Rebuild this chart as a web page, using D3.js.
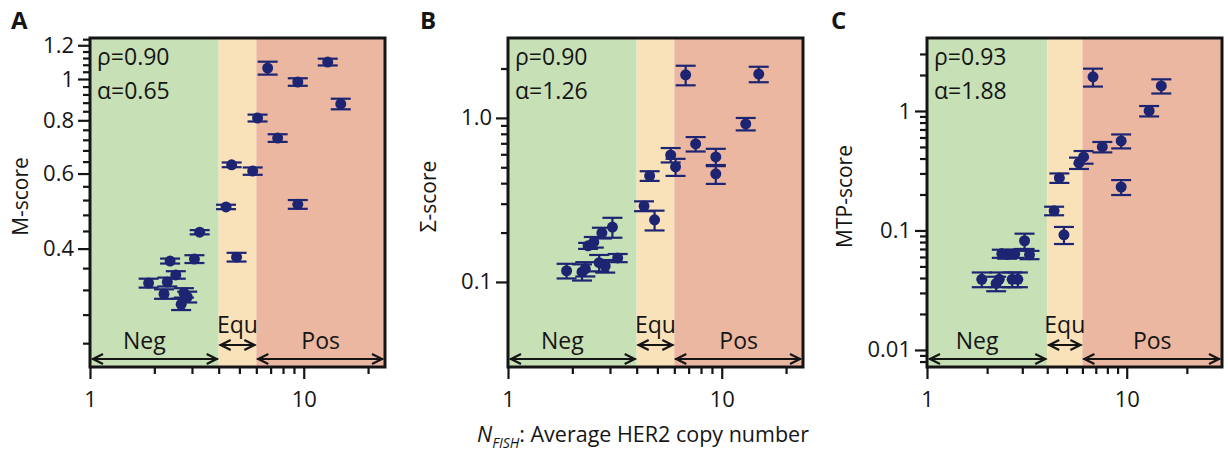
<!DOCTYPE html>
<html>
<head>
<meta charset="utf-8">
<script src="https://cdn.jsdelivr.net/npm/d3@7"></script>
<style>
  body { margin: 0; background: #fff; }
  text { font-family: "Open Sans", sans-serif; }
</style>
</head>
<body>
<div id="chart"></div>
<script>
// Average HER2 copy number of each sample (shared by the three panels)
const nFish = [1.88, 2.22, 2.3, 2.37, 2.52, 2.67, 2.75, 2.85, 3.08, 3.26, 4.33, 4.6, 4.85, 5.77, 6.08, 6.78, 7.55, 9.38, 9.38, 12.95, 14.9];

// Panel A: M-score
const mScore = [0.332, 0.313, 0.334, 0.374, 0.347, 0.296, 0.315, 0.308, 0.378, 0.437, 0.501, 0.629, 0.382, 0.608, 0.81, 1.061, 0.727, 0.984, 0.508, 1.096, 0.874];
const mErr   = [0.008, 0.008, 0.008, 0.005, 0.007, 0.009, 0.008, 0.009, 0.008, 0.005, 0.006, 0.008, 0.009, 0.012, 0.015, 0.037, 0.015, 0.02, 0.012, 0.02, 0.025];

// Panel B: Sigma-score
const sigmaScore = [0.117, 0.115, 0.12, 0.166, 0.175, 0.131, 0.199, 0.125, 0.216, 0.14, 0.29, 0.443, 0.239, 0.595, 0.503, 1.83, 0.694, 0.578, 0.456, 0.919, 1.85];
const sigmaErr   = [0.012, 0.013, 0.012, 0.007, 0.013, 0.015, 0.015, 0.011, 0.03, 0.008, 0.02, 0.03, 0.033, 0.06, 0.06, 0.25, 0.07, 0.07, 0.06, 0.08, 0.2];

// Panel C: MTP-score
const mtpScore = [0.039, 0.036, 0.039, 0.064, 0.063, 0.039, 0.064, 0.039, 0.082, 0.0625, 0.146, 0.275, 0.092, 0.367, 0.412, 1.93, 0.5, 0.561, 0.231, 1.0, 1.62];
const mtpErr   = [0.0055, 0.005, 0.0055, 0.005, 0.005, 0.0055, 0.005, 0.0055, 0.012, 0.005, 0.012, 0.025, 0.015, 0.04, 0.05, 0.33, 0.05, 0.075, 0.033, 0.1, 0.22];

// HER2 status regions
const regionNames  = ["Neg", "Equ", "Pos"];
const regionBounds = [1, 4, 6];
const regionColors = ["#c7e0b6", "#f9e2b9", "#ebb7a1"];

// Tick values
const xMajorTicks = [1, 10];
const xMinorTicks = [2, 3, 4, 5, 6, 7, 8, 9, 20];
const mMajorTicks = [0.4, 0.6, 0.8, 1, 1.2];
const mMinorTicks = [0.24, 0.28, 0.32, 0.36, 0.44, 0.48, 0.52, 0.56, 0.64, 0.68, 0.72, 0.76, 0.84, 0.88, 0.92, 0.96, 1.04, 1.08, 1.12, 1.16, 1.24];
const sigmaMajorTicks = [0.1, 1];
const sigmaMinorTicks = [0.2, 0.3, 0.4, 0.5, 0.6, 0.7, 0.8, 0.9, 2];
const mtpMajorTicks = [0.01, 0.1, 1];
const mtpMinorTicks = [0.008, 0.009, 0.02, 0.03, 0.04, 0.05, 0.06, 0.07, 0.08, 0.09, 0.2, 0.3, 0.4, 0.5, 0.6, 0.7, 0.8, 0.9, 2, 3];

const panelLetters = ["A", "B", "C"];
const yLabels = ["M-score", "Σ-score", "MTP-score"];
const rhoValues = ["0.90", "0.90", "0.93"];
const alphaValues = ["0.65", "1.26", "1.88"];

const width = 1228, height = 452;
const plotTop = 38, plotW = 295, plotH = 329;
const dotColor = "#1d2572";
const ink = "#151515";

const svg = d3.select("#chart")
  .append("svg")
    .attr("width", width)
    .attr("height", height);

const panels = [
  {left: 90,  letterX: 11,  ylabX: -62, xMax: 24, yDomain: [0.211, 1.248], scores: mScore, errs: mErr,
   yMajor: mMajorTicks, yMinor: mMinorTicks, yFmt: d => d === 1 ? "1" : d3.format(".1f")(d)},
  {left: 508, letterX: 420, ylabX: -72, xMax: 24, yDomain: [0.0303, 3.07], scores: sigmaScore, errs: sigmaErr,
   yMajor: sigmaMajorTicks, yMinor: sigmaMinorTicks, yFmt: d3.format(".1f")},
  {left: 927, letterX: 831, ylabX: -75, xMax: 30, yDomain: [0.0072, 4.08], scores: mtpScore, errs: mtpErr,
   yMajor: mtpMajorTicks, yMinor: mtpMinorTicks, yFmt: d => String(d)}
];

function styleAxis(sel) {
  sel.select(".domain").remove();
  sel.selectAll("line").attr("stroke", ink).attr("stroke-width", 2.2);
  sel.selectAll("text")
    .attr("fill", ink)
    .style("font-size", "22px")
    .style("font-family", "'Open Sans', sans-serif");
}

function arrow(g, x0, x1, y) {
  g.append("line")
    .attr("x1", x0).attr("x2", x1).attr("y1", y).attr("y2", y)
    .attr("stroke", ink).attr("stroke-width", 2.2);
  g.append("path")
    .attr("d", `M${x0 + 11},${y - 5}L${x0 + 1},${y}L${x0 + 11},${y + 5}`)
    .attr("fill", "none").attr("stroke", ink).attr("stroke-width", 2.2);
  g.append("path")
    .attr("d", `M${x1 - 11},${y - 5}L${x1 - 1},${y}L${x1 - 11},${y + 5}`)
    .attr("fill", "none").attr("stroke", ink).attr("stroke-width", 2.2);
}

panels.forEach((p, pi) => {
  const g = svg.append("g").attr("transform", `translate(${p.left},${plotTop})`);

  const x = d3.scaleLog().domain([1, p.xMax]).range([0, plotW]);
  const y = d3.scaleLog().domain(p.yDomain).range([plotH, 0]);

  // Background regions
  regionNames.forEach((name, i) => {
    const x0 = x(regionBounds[i]);
    const x1 = i < regionNames.length - 1 ? x(regionBounds[i + 1]) : plotW;
    g.append("rect")
      .attr("x", x0).attr("y", 0)
      .attr("width", x1 - x0).attr("height", plotH)
      .attr("fill", regionColors[i]);
  });

  // Axes
  g.append("g")
    .attr("transform", `translate(0,${plotH})`)
    .call(d3.axisBottom(x).tickValues(xMajorTicks).tickFormat(d3.format("d")).tickSize(12).tickPadding(12))
    .call(styleAxis);
  g.append("g")
    .attr("transform", `translate(0,${plotH})`)
    .call(d3.axisBottom(x).tickValues(xMinorTicks).tickFormat("").tickSize(7))
    .call(styleAxis);
  g.append("g")
    .call(d3.axisLeft(y).tickValues(p.yMajor).tickFormat(p.yFmt).tickSize(12).tickPadding(4))
    .call(styleAxis);
  g.append("g")
    .call(d3.axisLeft(y).tickValues(p.yMinor).tickFormat("").tickSize(7))
    .call(styleAxis);

  // Frame
  g.append("rect")
    .attr("x", 0).attr("y", 0)
    .attr("width", plotW).attr("height", plotH)
    .attr("fill", "none")
    .attr("stroke", ink)
    .attr("stroke-width", 3);

  // Region arrows and labels
  const b4 = x(regionBounds[1]), b6 = x(regionBounds[2]);
  arrow(g, 2, b4 - 1, plotH - 8);
  arrow(g, b4 + 1, b6 - 1, plotH - 22);
  arrow(g, b6 + 1, plotW - 2, plotH - 8);
  const regLabel = (lx, ly, t) => g.append("text")
    .attr("x", lx).attr("y", ly)
    .attr("text-anchor", "middle")
    .style("font-size", "23px").attr("fill", ink)
    .text(t);
  regLabel(b4 / 2 - 10, plotH - 18, regionNames[0]);
  regLabel((b4 + b6) / 2, plotH - 34, regionNames[1]);
  regLabel((b6 + plotW) / 2, plotH - 18, regionNames[2]);

  // Error bars
  const pts = nFish.map((n, i) => ({n: n, v: p.scores[i], e: p.errs[i]}));
  const eb = g.append("g").attr("stroke", dotColor).attr("stroke-width", 2.2);
  pts.forEach(d => {
    const cx = x(d.n), yHi = y(d.v + d.e), yLo = y(d.v - d.e);
    eb.append("line").attr("x1", cx).attr("x2", cx).attr("y1", yHi).attr("y2", yLo);
    eb.append("line").attr("x1", cx - 10).attr("x2", cx + 10).attr("y1", yHi).attr("y2", yHi);
    eb.append("line").attr("x1", cx - 10).attr("x2", cx + 10).attr("y1", yLo).attr("y2", yLo);
  });

  // Points
  g.selectAll(".dot")
    .data(pts)
    .enter()
    .append("circle")
      .attr("class", "dot")
      .attr("cx", d => x(d.n))
      .attr("cy", d => y(d.v))
      .attr("r", 5.5)
      .attr("fill", dotColor);

  // Correlation text
  g.append("text")
    .attr("x", 7).attr("y", 27)
    .style("font-size", "23px").attr("fill", ink)
    .text(`ρ=${rhoValues[pi]}`);
  g.append("text")
    .attr("x", 7).attr("y", 61)
    .style("font-size", "23px").attr("fill", ink)
    .text(`α=${alphaValues[pi]}`);

  // Y label
  g.append("text")
    .attr("transform", `translate(${p.ylabX},${plotH / 2 - 6}) rotate(-90)`)
    .attr("text-anchor", "middle")
    .style("font-size", "21px").attr("fill", ink)
    .text(yLabels[pi]);

  // Panel letter
  svg.append("text")
    .attr("x", p.letterX).attr("y", 29)
    .style("font-size", "24px").style("font-weight", "bold").attr("fill", ink)
    .text(panelLetters[pi]);
});

// Shared x-axis label
const xlab = svg.append("text")
  .attr("x", 643).attr("y", 442)
  .attr("text-anchor", "middle")
  .style("font-size", "21.5px").attr("fill", ink);
xlab.append("tspan").style("font-style", "italic").text("N");
xlab.append("tspan").style("font-style", "italic").style("font-size", "14px").attr("dy", 6).text("FISH");
xlab.append("tspan").attr("dy", -6).text(": Average HER2 copy number");
</script>
</body>
</html>
